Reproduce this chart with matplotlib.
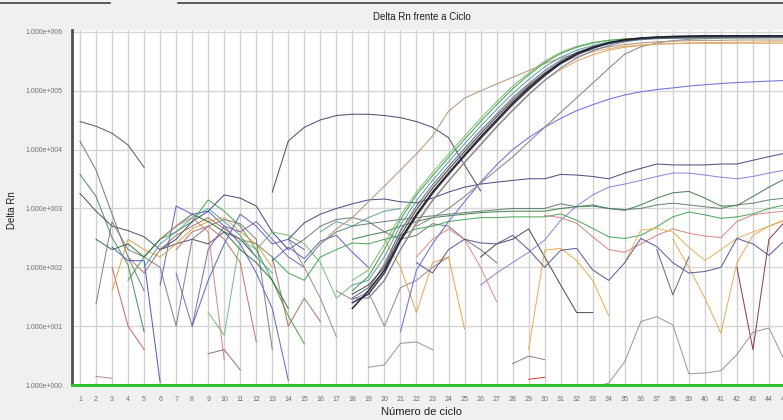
import numpy as np
import matplotlib
matplotlib.use("Agg")
import matplotlib.pyplot as plt
from matplotlib.lines import Line2D

nan = np.nan

title = "Delta Rn frente a Ciclo"
x_label = "Número de ciclo"
y_label = "Delta Rn"
x_ticks = list(range(1, 46))
y_ticks = [1e0, 1e1, 1e2, 1e3, 1e4, 1e5, 1e6]
y_tick_labels = ["1.000e+000", "1.000e+001", "1.000e+002", "1.000e+003",
                 "1.000e+004", "1.000e+005", "1.000e+006"]

# each series: (first cycle, Delta Rn values for consecutive cycles)
amp_green = (18, [40, 70, 200, 650, 1.7e3, 3.6e3, 7.4e3, 1.5e4, 3.0e4, 5.8e4, 1.08e5, 1.85e5, 3.0e5,
                  4.3e5, 5.5e5, 6.5e5, 7.2e5, 7.6e5, 7.8e5, 7.9e5, 8.0e5, 8.0e5, 8.1e5, 8.1e5, 8.1e5,
                  8.1e5, 8.1e5, 8.1e5])
amp_slate = (18, [30, 45, 110, 420, 1.1e3, 2.5e3, 5.2e3, 1.05e4, 2.1e4, 4.0e4, 7.6e4, 1.32e5, 2.2e5,
                  3.3e5, 4.5e5, 5.6e5, 6.5e5, 7.2e5, 7.6e5, 7.8e5, 7.9e5, 8.0e5, 8.0e5, 8.1e5, 8.1e5,
                  8.1e5, 8.2e5, 8.2e5])
amp_navy = (18, [25, 35, 80, 280, 750, 1.8e3, 3.8e3, 7.8e3, 1.55e4, 3.0e4, 5.8e4, 1.05e5, 1.8e5,
                 2.9e5, 4.1e5, 5.3e5, 6.4e5, 7.2e5, 7.8e5, 8.1e5, 8.3e5, 8.4e5, 8.5e5, 8.5e5, 8.5e5,
                 8.5e5, 8.5e5, 8.5e5])
amp_black = (18, [20, 40, 90, 300, 800, 1.9e3, 4.0e3, 8.2e3, 1.65e4, 3.2e4, 6.2e4, 1.12e5, 1.9e5,
                  3.0e5, 4.3e5, 5.5e5, 6.6e5, 7.4e5, 7.9e5, 8.2e5, 8.4e5, 8.5e5, 8.6e5, 8.6e5, 8.6e5,
                  8.6e5, 8.6e5, 8.6e5])
amp_teal = (18, [50, 60, 150, 520, 1.35e3, 3.0e3, 6.2e3, 1.25e4, 2.5e4, 4.8e4, 9.0e4, 1.55e5, 2.55e5,
                 3.7e5, 4.9e5, 5.9e5, 6.7e5, 7.2e5, 7.5e5, 7.7e5, 7.8e5, 7.9e5, 7.9e5, 7.9e5, 8.0e5,
                 8.0e5, 8.0e5, 8.0e5])
amp_lgreen = (18, [60, 90, 250, 750, 1.9e3, 4.1e3, 8.4e3, 1.7e4, 3.4e4, 6.5e4, 1.2e5, 2.0e5, 3.2e5,
                   4.5e5, 5.7e5, 6.6e5, 7.2e5, 7.6e5, 7.8e5, 7.9e5, 8.0e5, 8.0e5, 8.0e5, 8.0e5, 8.0e5,
                   8.0e5, 8.0e5, 8.0e5])
amp_greyblue = (18, [30, 30, 60, 200, 550, 1.35e3, 2.9e3, 6.0e3, 1.2e4, 2.4e4, 4.6e4, 8.5e4, 1.5e5,
                     2.45e5, 3.6e5, 4.8e5, 5.9e5, 6.8e5, 7.4e5, 7.8e5, 8.0e5, 8.1e5, 8.2e5, 8.2e5,
                     8.2e5, 8.2e5, 8.2e5, 8.2e5])
amp_dgrey = (18, [35, 50, 100, 350, 950, 2.2e3, 4.6e3, 9.3e3, 1.85e4, 3.6e4, 6.8e4, 1.2e5, 2.0e5,
                  3.1e5, 4.3e5, 5.4e5, 6.4e5, 7.1e5, 7.6e5, 7.9e5, 8.1e5, 8.2e5, 8.3e5, 8.3e5, 8.3e5,
                  8.3e5, 8.3e5, 8.3e5])
amp_orange = (19, [30, 60, 200, 600, 1.4e3, 3.0e3, 6.2e3, 1.25e4, 2.5e4, 4.8e4, 8.8e4, 1.5e5, 2.3e5,
                   3.2e5, 4.1e5, 4.9e5, 5.5e5, 5.9e5, 6.2e5, 6.4e5, 6.5e5, 6.6e5, 6.6e5, 6.7e5, 6.7e5,
                   6.8e5, 6.8e5])
amp_lorange = (19, [40, 120, 400, 1.0e3, 2.2e3, 4.6e3, 9.5e3, 1.9e4, 3.7e4, 7.0e4, 1.25e5, 2.0e5,
                    2.9e5, 3.8e5, 4.6e5, 5.2e5, 5.7e5, 6.0e5, 6.2e5, 6.3e5, 6.4e5, 6.4e5, 6.4e5, 6.4e5,
                    6.4e5, 6.4e5, 6.4e5])
amp_tan = (16, [250, 450, 700, 1.3e3, 2.4e3, 4.5e3, 8.5e3, 1.7e4, 4.5e4, 7.5e4, 1.0e5, 1.3e5, 1.7e5,
                2.2e5, 2.9e5, 3.6e5, 4.3e5, 5.0e5, 5.6e5, 6.1e5, 6.5e5, 6.8e5, 7.0e5, 7.1e5, 7.2e5,
                7.2e5, 7.3e5, 7.3e5, 7.3e5, 7.3e5])
amp_grey_slow = (22, [500, 700, 1.0e3, 1.6e3, 2.7e3, 4.5e3, 7.5e3, 1.35e4, 2.4e4, 4.3e4, 7.6e4,
                      1.35e5, 2.4e5, 4.2e5, 5.6e5, 6.5e5, 7.1e5, 7.5e5, 7.7e5, 7.8e5, 7.9e5, 7.9e5,
                      8.0e5, 8.0e5])
amp_blue_low = (21, [8, 90, 250, 600, 1.3e3, 2.8e3, 5.5e3, 1.0e4, 1.6e4, 2.4e4, 3.4e4, 4.6e4, 5.8e4,
                     7.2e4, 8.5e4, 9.6e4, 1.05e5, 1.12e5, 1.2e5, 1.27e5, 1.33e5, 1.38e5, 1.42e5,
                     1.46e5, 1.5e5])

arch_early = (1, [3.0e4, 2.5e4, 1.9e4, 1.2e4, 5.0e3])
arch_mid = (13, [1.9e3, 1.4e4, 2.4e4, 3.2e4, 3.8e4, 4.0e4, 4.0e4, 3.8e4, 3.5e4, 3.0e4, 2.4e4, 1.6e4,
                 5.5e3, 2.0e3])
early_grey = (1, [1.4e4, 4.5e3, 800, 150, 40])
early_green = (1, [3.8e3, 1.6e3, 320, 110, 8])
early_dark = (1, [1.8e3, 900, 500, 420, 330, 200, 250, 300, 250, 400, 300, 150])

left_blue1 = (3, [220, 130, 130, 1.1])
left_blue2 = (6, [50, 1.1e3, 800, 900, 500, 250, 80, 20, 1.2])
left_green = (4, [60, 150, 300, 400, 600, 1.4e3, 900, 500, 200, 60, 15, 5])
left_navy = (6, [200, 300, 600, 900, 1.7e3, 1.5e3, 1.1e3, 400, 200])
left_red1 = (3, [100, 10, 4])
left_red2 = (7, [200, 400, 500, 300, 120, 5.4])
left_orange = (3, [40, 300, 200, 150, 250, 450, 600, 700, 400, 250, 100])
left_grey = (2, [24, 600, 200, 150, 100, 10, 300, 500, 650, 550, 300, 4])
left_brown = (4, [150, 80, 200, 350, 500, 700, 450, 300, 250, 150, 10, 30, 12])
left_teal = (5, [100, 250, 400, 700, 1.0e3, 600, 350, 150, 80])
left_purple = (7, [80, 10, 200, 500, 400, 600, 300, 150, 100])
left_dgreen = (2, [300, 200, 250, 150, 300, 500, 800, 600, 400, 200, 120, 60, 20])
left_pink = (6, [300, 500, 700, 400, 2.7])
left_blue3 = (8, [10, 60, 250, 800, 500, 250, 300, 200])
left_lgreen = (9, [17, 7, 300, 200, 400, 350, 250, 120, 30, 50])

mid_grey = (14, [200, 300, 500, 650, 700, 600, 400, 300, 350, 550, 500, 300, 200, 120])
mid_blue = (13, [130, 220, 140, 280, 350, 180, 100])
mid_v = (17, [40, 28, 38, 10, 45, 60, 100, 150])
mid_orange = (20, [300, 100, 17, 120, 150, 9])
mid_pink = (22, [150, 300, 450, 300, 100, 26])
mid_drop = (14, [300, 100, 30, 6.6])
mid_teal = (16, [400, 600, 500, 700, 900, 1000])
mid_dark = (26, [150, 250, 300, 450, 150, 50, 17, 17])

right_navy = (14, [300, 570, 800, 1.0e3, 1.2e3, 1.4e3, 1.45e3, 1.3e3, 1.25e3, 1.5e3, 1.9e3, 2.3e3,
                   2.6e3, 2.8e3, 3.0e3, 3.2e3, 3.2e3, 3.8e3, 3.7e3, 3.5e3, 3.2e3, 4.0e3, 4.8e3, 5.7e3,
                   5.5e3, 5.5e3, 5.5e3, 5.7e3, 5.7e3, 6.6e3, 7.6e3, 8.7e3])
right_purple = (26, [50, 80, 120, 180, 290, 630, 1.1e3, 1.7e3, 2.3e3, 2.6e3, 3.0e3, 3.5e3, 4.0e3,
                     4.0e3, 3.7e3, 3.4e3, 3.2e3, 3.5e3, 4.0e3, 4.5e3])
right_dgreen = (18, [300, 350, 400, 500, 600, 700, 750, 800, 850, 880, 900, 900, 900, 1.0e3, 1.07e3,
                     1.1e3, 1.0e3, 930, 1.15e3, 1.5e3, 1.85e3, 1.95e3, 1.5e3, 1.1e3, 1.12e3, 1.6e3,
                     2.3e3, 3.2e3])
right_ggreen = (15, [120, 250, 400, 500, 550, 600, 650, 700, 750, 800, 850, 900, 950, 1.0e3, 1.0e3,
                     1.0e3, 1.2e3, 1.07e3, 1.15e3, 1.0e3, 960, 1.0e3, 1.15e3, 1.23e3, 1.15e3,
                     1.07e3, 1.0e3, 1.15e3, 1.23e3, 1.4e3, 1.5e3])
right_green = (13, [150, 80, 60, 150, 200, 260, 250, 300, 350, 450, 500, 600, 650, 700, 700, 720,
                    720, 720, 810, 630, 460, 330, 310, 350, 490, 720, 870, 780, 680, 720, 810, 1.0e3,
                    1.15e3])
right_pink = (30, [760, 700, 560, 330, 200, 180, 250, 350, 450, 380, 340, 320, 600, 780, 850, 900])
right_orange1 = (29, [4, 195, 210, 130, 60, 15])
right_orange2 = (35, [120, 430, 460, 400, 220, 130, 200, 310, 400, 500, 630])
right_orange3 = (38, [300, 100, 30, 7.6, 120, 350, 500, 650])
right_navy2 = (22, [120, 80, 200, 300, 260, 250, 350, 200, 100, 195, 210, 90, 60, 120, 310, 225, 120,
                    80, 85, 100, 310, 250, 160, 290])
right_v = (37, [200, 34, 150])
right_maroon = (42, [100, 4, 300, 600])

low_a = (2, [1.4, 1.3])
low_b = (9, [3.4, 4.0, 1.8])
low_c = (19, [2.0, 2.2, 5.1, 5.4, 4.0])
low_d = (28, [2.3, 3.1, 2.7])
low_red = (29, [1.25, 1.35])
low_e = (33, [0.9, 1.08, 2.5, 12, 14.5, 10.5, 1.55, 1.6, 1.75, 3.3, 7.9, 9.3, 2.5])

noise_lines = [
    (early_grey, '#707078'), (early_green, '#3f8a4a'), (early_dark, '#4a4a5c'),
    (left_blue1, '#4a4ad0'), (left_blue2, '#5a5ad0'), (left_green, '#3fa040'),
    (left_navy, '#3a3a7a'), (left_red1, '#c85a5a'), (left_red2, '#c86a6a'),
    (left_orange, '#e0a040'), (left_grey, '#7a7a80'), (left_brown, '#a07058'),
    (left_teal, '#50a0a0'), (left_purple, '#8060a8'), (left_dgreen, '#2f6a3a'),
    (left_pink, '#d08080'), (left_blue3, '#5060b8'), (left_lgreen, '#70b870'),
    (mid_grey, '#70707c'), (mid_blue, '#5a5ac8'), (mid_v, '#9a7a8a'),
    (mid_orange, '#e0a040'), (mid_pink, '#d08888'), (mid_drop, '#8a8a8a'),
    (mid_teal, '#5a9aa0'), (mid_dark, '#404048'),
    (right_navy, '#404078'), (right_purple, '#8080d8'), (right_dgreen, '#3a7a40'),
    (right_ggreen, '#5a7a68'), (right_green, '#40a050'), (right_pink, '#d08080'),
    (right_orange1, '#e8a840'), (right_orange2, '#e8b050'), (right_orange3, '#e0a850'),
    (right_navy2, '#505090'), (right_v, '#606070'), (right_maroon, '#803040'),
    (low_a, '#b08080'), (low_b, '#906878'), (low_c, '#a08898'), (low_d, '#907080'),
    (low_red, '#e03030'), (low_e, '#a08898'),
    (arch_early, '#505060'), (arch_mid, '#404068'),
]
amp_lines = [
    (amp_blue_low, '#7070d8'), (amp_grey_slow, '#888888'), (amp_tan, '#b89878'),
    (amp_lorange, '#d8b080'), (amp_orange, '#e0a860'), (amp_teal, '#60a0b0'),
    (amp_lgreen, '#80c080'), (amp_green, '#50a050'), (amp_greyblue, '#7080a0'),
    (amp_slate, '#607090'), (amp_dgrey, '#505058'), (amp_navy, '#303060'),
    (amp_black, '#202028'),
]

fig = plt.figure(figsize=(7.83, 4.2), dpi=100, facecolor='#f0f0f0')
W, H = 783, 420
ax = fig.add_axes([72 / W, 35 / H, (793 - 72) / W, 355 / H])
ax.set_facecolor('white')
ax.set_yscale('log')
ax.set_xlim(0.5, 45.5)
ax.set_ylim(1, 1.08e6)

for (start, vals), col in noise_lines:
    xs = np.arange(start, start + len(vals))
    ax.plot(xs, vals, color=col, lw=0.75, alpha=0.9, zorder=3)
for (start, vals), col in amp_lines:
    xs = np.arange(start, start + len(vals))
    lw = 1.1 if col in ('#202028', '#303060') else 0.8
    ax.plot(xs, vals, color=col, lw=lw, alpha=0.95, zorder=4)

ax.set_xticks(x_ticks)
ax.set_xticklabels([str(t) for t in x_ticks])
ax.set_yticks(y_ticks)
ax.set_yticklabels(y_tick_labels)
ax.minorticks_off()
ax.tick_params(axis='both', length=0, labelsize=5, labelcolor='#707070')
ax.tick_params(axis='x', pad=8)
ax.tick_params(axis='y', pad=7)
for lab in ax.get_xticklabels() + ax.get_yticklabels():
    lab.set_family('Liberation Sans')

ax.grid(True, axis='x', color='#d0d0d0', lw=1.0, zorder=0)
ax.grid(True, axis='y', color='#d6d6d6', lw=1.0, zorder=0)
ax.set_axisbelow(True)
for s in ('top', 'right', 'bottom'):
    ax.spines[s].set_visible(False)
ax.spines['left'].set_color('#505050')
ax.spines['left'].set_linewidth(2)
ax.axhline(1, color='#2fbf2f', lw=2.2, zorder=6, clip_on=False)

fig.text(422 / W, 1 - 17 / H, title, ha='center', va='center', fontsize=7,
         family='Liberation Sans', color='#202020')
fig.text(422 / W, 1 - 412 / H, x_label, ha='center', va='center', fontsize=8,
         family='Liberation Sans', color='#202020')
fig.text(12 / W, 1 - 210 / H, y_label, ha='center', va='center', fontsize=7,
         rotation=90, family='Liberation Sans', color='#202020')

fig.add_artist(Line2D([0, 110 / W], [1 - 3 / H] * 2, color='#404040', lw=1.2))
fig.add_artist(Line2D([178 / W, 1], [1 - 3 / H] * 2, color='#404040', lw=1.2))

fig.savefig('out.png', dpi=100, facecolor=fig.get_facecolor())
